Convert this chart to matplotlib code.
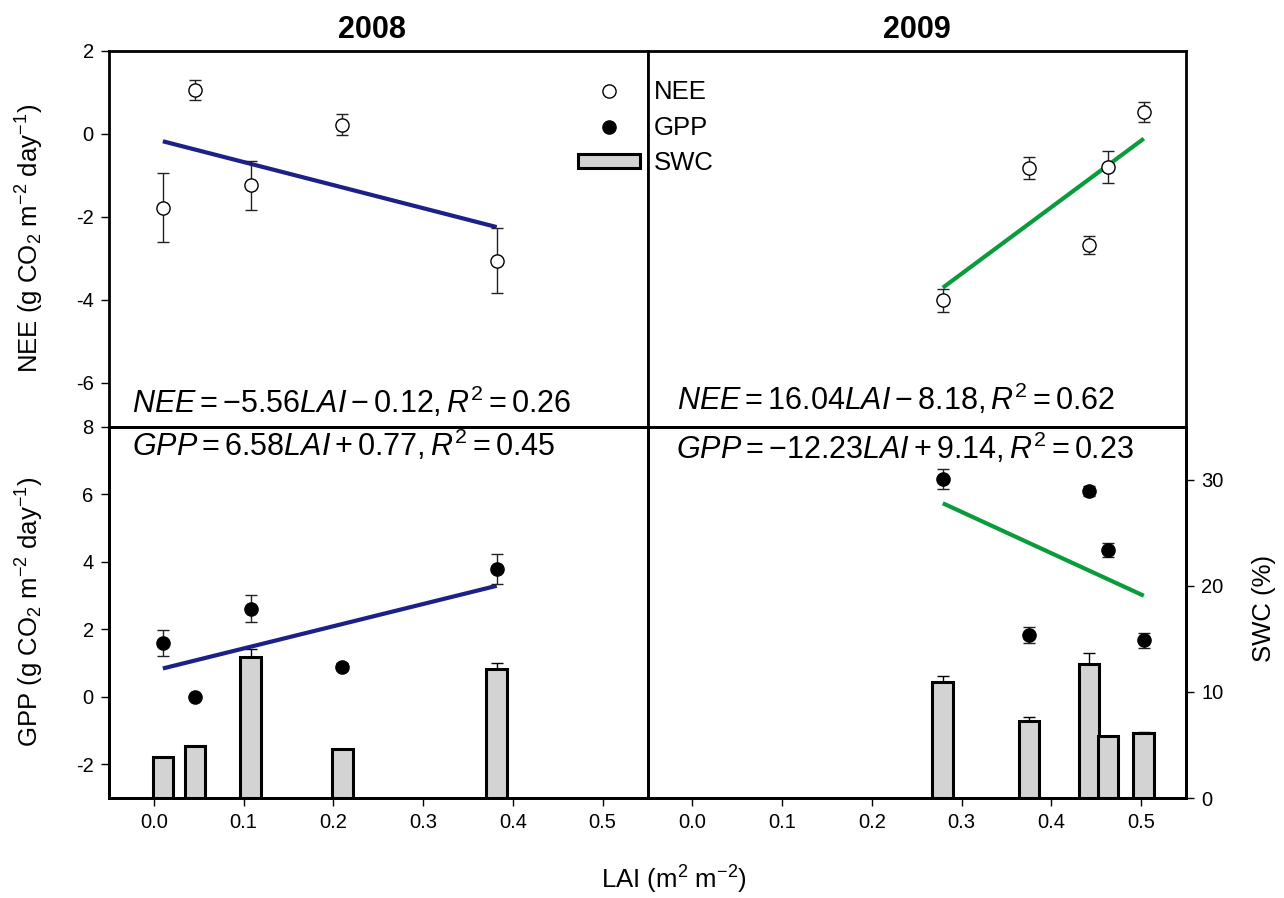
import matplotlib
matplotlib.use("Agg")
import matplotlib.pyplot as plt
from matplotlib.lines import Line2D
from matplotlib.patches import Patch

OUT_FILE = "out.png"

plt.rcParams["font.family"] = ["Liberation Sans", "DejaVu Sans"]
plt.rcParams["mathtext.fontset"] = "custom"
plt.rcParams["mathtext.rm"] = "Liberation Sans"
plt.rcParams["mathtext.it"] = "Liberation Sans:italic"
plt.rcParams["mathtext.bf"] = "Liberation Sans:bold"
plt.rcParams["axes.unicode_minus"] = False

# 2008 plot means (LAI, NEE, GPP, SWC) with standard errors
lai_2008 = [0.010, 0.046, 0.108, 0.210, 0.382]
nee_2008 = [-1.78, 1.05, -1.24, 0.22, -3.05]
nee_2008_err = [0.83, 0.24, 0.60, 0.25, 0.79]
gpp_2008 = [1.58, 0.00, 2.61, 0.89, 3.77]
gpp_2008_err = [0.39, 0.05, 0.40, 0.10, 0.44]
swc_2008 = [3.9, 4.9, 13.3, 4.6, 12.2]
swc_2008_err = [0.0, 0.0, 0.7, 0.0, 0.5]

# 2009
lai_2009 = [0.279, 0.375, 0.442, 0.463, 0.503]
nee_2009 = [-4.01, -0.82, -2.68, -0.80, 0.53]
nee_2009_err = [0.27, 0.26, 0.22, 0.39, 0.25]
gpp_2009 = [6.45, 1.83, 6.08, 4.35, 1.67]
gpp_2009_err = [0.30, 0.23, 0.15, 0.20, 0.22]
swc_2009 = [10.9, 7.3, 12.6, 5.8, 6.1]
swc_2009_err = [0.6, 0.3, 1.1, 0.0, 0.1]

# linear fits (slope, intercept, R2)
fit_nee_2008 = (-5.56, -0.12, 0.26)
fit_nee_2009 = (16.04, -8.18, 0.62)
fit_gpp_2008 = (6.58, 0.77, 0.45)
fit_gpp_2009 = (-12.23, 9.14, 0.23)

BLUE = "#1c2088"
GREEN = "#0a9b3c"
BAR_GRAY = "#d3d3d3"
SPINE_W = 2.0
LABEL_SIZE = 18.5

W, H = 1284, 898
X_L, X_M, X_R = 109 / W, 647.5 / W, 1186 / W
Y_T, Y_M, Y_B = 1 - 51 / H, 1 - 426.5 / H, 1 - 798 / H


def style_axes(ax):
    for sp in ax.spines.values():
        sp.set_linewidth(SPINE_W)
    ax.tick_params(direction="out", length=6, width=1.0, labelsize=14.5, pad=5)


def fmt_eq(name, fit):
    a, b, r2 = fit
    sb = "+" if b >= 0 else "-"
    return rf"${name}={a:.2f}LAI{sb}{abs(b):.2f},R^2={r2:.2f}$"


def fit_line(ax, lai, fit, color):
    a, b, _ = fit
    x0, x1 = min(lai), max(lai)
    ax.plot([x0, x1], [a * x0 + b, a * x1 + b], color=color, lw=3.0,
            solid_capstyle="butt", zorder=2)


def points(ax, lai, y, err, filled):
    ax.errorbar(lai, y, yerr=err, fmt="o", ms=9.5,
                mfc="black" if filled else "white", mec="black", mew=1.0,
                ecolor="#222222", elinewidth=1.0, capsize=4.5, capthick=1.0,
                zorder=3)


def bars(ax, lai, swc, err):
    ax.bar(lai, swc, width=0.023, color=BAR_GRAY, edgecolor="black",
           linewidth=2.2, zorder=1)
    ax.errorbar(lai, swc, yerr=[[0] * len(err), err], fmt="none",
                ecolor="black", elinewidth=1.0, capsize=4.5, capthick=1.0)


fig = plt.figure(figsize=(12.84, 8.98), dpi=100)

ax1 = fig.add_axes([X_L, Y_M, X_M - X_L, Y_T - Y_M])
ax2 = fig.add_axes([X_M, Y_M, X_R - X_M, Y_T - Y_M])
ax3 = fig.add_axes([X_L, Y_B, X_M - X_L, Y_M - Y_B])
ax4 = fig.add_axes([X_M, Y_B, X_R - X_M, Y_M - Y_B])

for ax in (ax1, ax2, ax3, ax4):
    style_axes(ax)
    ax.set_xlim(-0.05, 0.55)

# NEE panels
for ax in (ax1, ax2):
    ax.set_ylim(-7.05, 2)
    ax.tick_params(bottom=False, labelbottom=False)
ax1.set_yticks([-6, -4, -2, 0, 2])
ax2.tick_params(left=False, labelleft=False)

points(ax1, lai_2008, nee_2008, nee_2008_err, False)
fit_line(ax1, lai_2008, fit_nee_2008, BLUE)
points(ax2, lai_2009, nee_2009, nee_2009_err, False)
fit_line(ax2, lai_2009, fit_nee_2009, GREEN)

ax1.set_title("2008", fontsize=22, fontweight="bold", pad=9, x=0.489)
ax2.set_title("2009", fontsize=22, fontweight="bold", pad=9)

# GPP panels, SWC bars on a twin axis behind
tw3 = ax3.twinx()
tw4 = ax4.twinx()
for tw in (tw3, tw4):
    style_axes(tw)
    tw.set_ylim(0, 35)
tw3.tick_params(right=False, labelright=False)
tw4.set_yticks([0, 10, 20, 30])

ax3.set_ylim(-3, 8)
ax4.set_ylim(-3, 8)
ax3.set_yticks([-2, 0, 2, 4, 6, 8])
ax4.tick_params(left=False, labelleft=False)
for ax in (ax3, ax4):
    ax.set_xticks([0.0, 0.1, 0.2, 0.3, 0.4, 0.5])
    ax.set_xticklabels(["0.0", "0.1", "0.2", "0.3", "0.4", "0.5"])

bars(tw3, lai_2008, swc_2008, swc_2008_err)
bars(tw4, lai_2009, swc_2009, swc_2009_err)

for ax, tw in ((ax3, tw3), (ax4, tw4)):
    ax.set_zorder(tw.get_zorder() + 1)
    ax.patch.set_visible(False)

points(ax3, lai_2008, gpp_2008, gpp_2008_err, True)
fit_line(ax3, lai_2008, fit_gpp_2008, BLUE)
points(ax4, lai_2009, gpp_2009, gpp_2009_err, True)
fit_line(ax4, lai_2009, fit_gpp_2009, GREEN)

# regression equations
EQ_SIZE = 22
ax1.text(0.043, 0.065, fmt_eq("NEE", fit_nee_2008), transform=ax1.transAxes,
         fontsize=EQ_SIZE, va="center", ha="left")
ax2.text(0.054, 0.071, fmt_eq("NEE", fit_nee_2009), transform=ax2.transAxes,
         fontsize=EQ_SIZE, va="center", ha="left")
ax3.text(0.043, 0.950, fmt_eq("GPP", fit_gpp_2008), transform=ax3.transAxes,
         fontsize=EQ_SIZE, va="center", ha="left")
ax4.text(0.052, 0.942, fmt_eq("GPP", fit_gpp_2009), transform=ax4.transAxes,
         fontsize=EQ_SIZE, va="center", ha="left")

# axis labels
fig.text(30 / W, 1 - 238 / H, r"NEE (g CO$_2$ m$^{-2}$ day$^{-1}$)",
         rotation=90, ha="center", va="center", fontsize=LABEL_SIZE)
fig.text(30 / W, 1 - 612 / H, r"GPP (g CO$_2$ m$^{-2}$ day$^{-1}$)",
         rotation=90, ha="center", va="center", fontsize=LABEL_SIZE)
fig.text(1264 / W, 1 - 608 / H, "SWC (%)",
         rotation=90, ha="center", va="center", fontsize=LABEL_SIZE)
fig.text(674 / W, 1 - 880 / H, r"LAI (m$^2$ m$^{-2}$)",
         ha="center", va="center", fontsize=LABEL_SIZE)

# legend straddling the two top panels
handles = [
    Line2D([], [], ls="none", marker="o", ms=9.5, mfc="white", mec="black", mew=1.0),
    Line2D([], [], ls="none", marker="o", ms=9.5, mfc="black", mec="black", mew=1.0),
    Patch(facecolor=BAR_GRAY, edgecolor="black", linewidth=2.2),
]
fig.legend(handles, ["NEE", "GPP", "SWC"], loc="upper left",
           bbox_to_anchor=(578 / W, 1 - 80 / H), frameon=False, fontsize=18.5,
           handlelength=2.4, handleheight=0.42, handletextpad=0.55,
           labelspacing=0.45, borderpad=0, borderaxespad=0, numpoints=1)

fig.savefig(OUT_FILE, dpi=100)
